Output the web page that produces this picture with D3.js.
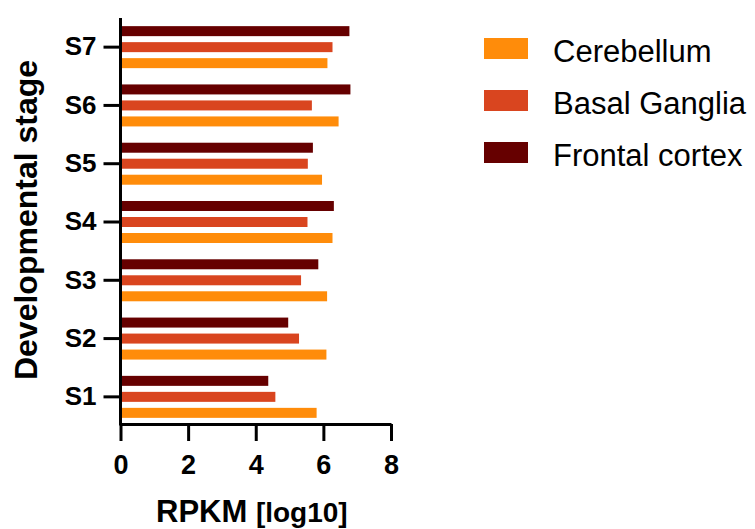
<!DOCTYPE html>
<html lang="en">
<head>
  <meta charset="UTF-8">
  <title>RPKM by developmental stage</title>
  <script src="https://d3js.org/d3.v7.min.js"></script>
  <style>
    body { margin: 0; background: #fff; }
    svg { font-family: "Liberation Sans", Arial, sans-serif; }
    .axis path, .axis line { stroke: #000; stroke-width: 3px; }
    .axis text { font-weight: bold; fill: #000; }
    .title { font-weight: bold; fill: #000; }
    .legend text { font-size: 31px; fill: #000; }
  </style>
</head>
<body>

<svg width="755" height="529"></svg>

<script>
  // data
  const stages = ["S7", "S6", "S5", "S4", "S3", "S2", "S1"];
  const regions = ["Frontal cortex", "Basal Ganglia", "Cerebellum"];
  const legendOrder = ["Cerebellum", "Basal Ganglia", "Frontal cortex"];
  const colors = ["#660000", "#D9451F", "#FF8C0A"];
  const frontal  = [6.77, 6.80, 5.69, 6.31, 5.85, 4.96, 4.37];
  const basal    = [6.27, 5.66, 5.54, 5.53, 5.34, 5.28, 4.58];
  const cereb    = [6.12, 6.45, 5.96, 6.27, 6.11, 6.09, 5.80];
  const xTicks = [0, 2, 4, 6, 8];

  const series = [frontal, basal, cereb];
  const rows = [];
  stages.forEach((s, i) => {
    regions.forEach((r, j) => rows.push({ stage: s, region: r, value: series[j][i] }));
  });

  const svg = d3.select("svg");

  const x = d3.scaleLinear().domain([0, 8]).range([120.5, 391]);
  const y = d3.scaleBand().domain(stages).range([18, 426]);
  const inner = d3.scaleBand().domain(regions).range([-21, 21]).paddingInner(0.375);
  const color = d3.scaleOrdinal().domain(regions).range(colors);

  // bars
  svg.append("g").selectAll("rect")
    .data(rows)
    .enter().append("rect")
    .attr("x", x(0))
    .attr("y", d => y(d.stage) + y.bandwidth() / 2 + inner(d.region))
    .attr("width", d => x(d.value) - x(0))
    .attr("height", inner.bandwidth())
    .attr("fill", d => color(d.region));

  // x axis
  const xAxis = svg.append("g")
    .attr("class", "axis")
    .attr("transform", "translate(0,424)")
    .call(d3.axisBottom(x).tickValues(xTicks).tickSize(17).tickSizeOuter(0).tickPadding(14));
  xAxis.selectAll("text").style("font-size", "27px");

  // y axis
  const yAxis = svg.append("g")
    .attr("class", "axis")
    .attr("transform", "translate(120.5,0)")
    .call(d3.axisLeft(y).tickSize(17).tickSizeOuter(0).tickPadding(7));
  yAxis.select(".domain").attr("d", "M0,18V425.5");
  yAxis.selectAll("text").style("font-size", "26px");

  // axis titles
  svg.append("text")
    .attr("class", "title")
    .attr("transform", "translate(37,220) rotate(-90)")
    .attr("text-anchor", "middle")
    .style("font-size", "32px")
    .text("Developmental stage");

  const xt = svg.append("text")
    .attr("class", "title")
    .attr("x", 156)
    .attr("y", 522);
  xt.append("tspan").style("font-size", "31px").text("RPKM ");
  xt.append("tspan").style("font-size", "28px").text("[log10]");

  // legend
  const legend = svg.append("g").attr("class", "legend")
    .selectAll("g")
    .data(legendOrder)
    .enter().append("g")
    .attr("transform", (d, i) => `translate(484,${38 + i * 52})`);

  legend.append("rect")
    .attr("width", 44)
    .attr("height", 21)
    .attr("fill", d => color(d));

  legend.append("text")
    .attr("x", 69)
    .attr("y", 23.5)
    .text(d => d);
</script>

</body>
</html>
